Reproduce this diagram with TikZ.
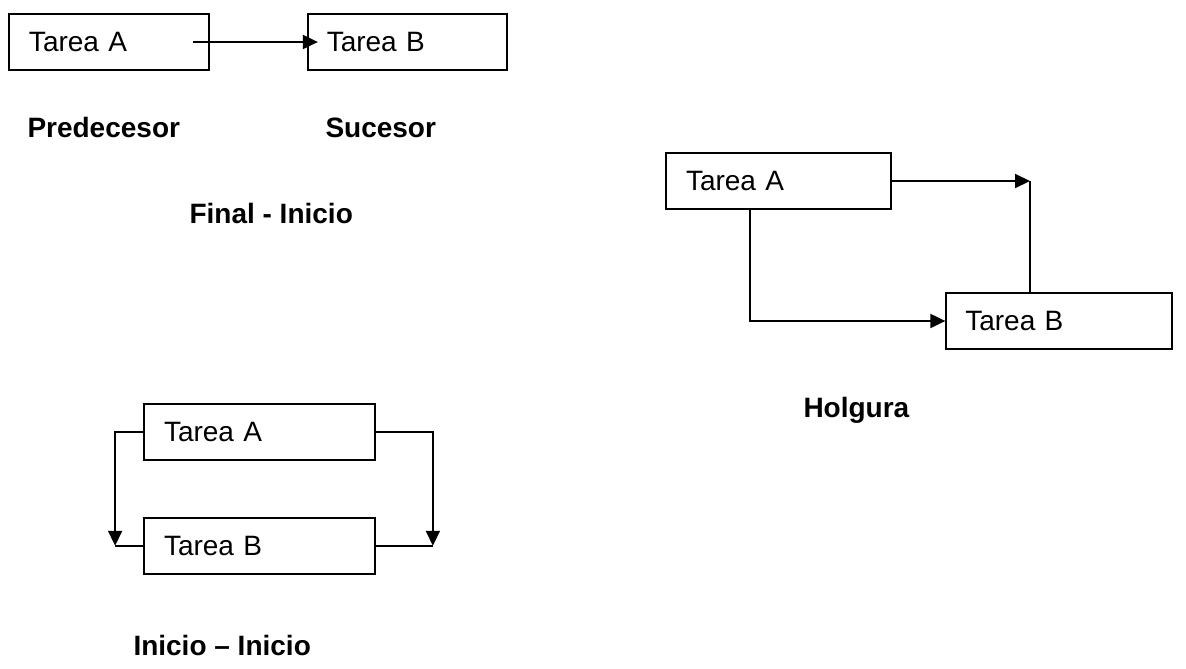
\documentclass[tikz,border=0pt]{standalone}
\usepackage{fontspec}
\setmainfont{Liberation Sans}
\usetikzlibrary{arrows.meta, positioning, calc}
\tikzstyle{tarea} = [rectangle, draw=black, line width=0.7pt, minimum height=22.4pt, inner xsep=8pt, align=left, font=\fontsize{11.2}{13}\selectfont]
\tikzstyle{flecha} = [line width=0.8pt, -{Triangle[length=6pt,width=5.6pt]}]
\tikzstyle{linea} = [line width=0.8pt, -]
\tikzstyle{etiqueta} = [anchor=base west, inner sep=0pt, font=\fontsize{11.2}{13}\selectfont\bfseries]

\begin{document}
\begin{tikzpicture}[x=0.4pt, y=-0.4pt]
    \useasboundingbox (0,0) rectangle (1186,668);

    % Final - Inicio
    \node [tarea, text width=64pt] (fA) at (109,42) {Tarea A};
    \node [tarea, text width=64.4pt, inner xsep=7.6pt, right=38.8pt of fA] (fB) {Tarea B};
    \node [etiqueta] (pred) at (27,137) {Predecesor};
    \node [etiqueta] (suc) at (325,137) {Sucesor};
    \node [etiqueta] (fi) at (189,223) {Final - Inicio};

    \draw [flecha] ($(fA.east)+(-17,0)$) -- ($(fB.west)+(11,0)$);

    % Holgura
    \node [tarea, text width=74pt] (hA) at (778.5,181) {Tarea A};
    \node [tarea, text width=75pt, inner xsep=7.6pt] (hB) at (1059,321) {Tarea B};
    \node [etiqueta] (hol) at (803,417) {Holgura};
    \coordinate (hC) at (1030,181);

    \draw [flecha] (hA.east) -- (hC);
    \draw [linea] (hC |- hB.north) -- (hC);
    \draw [flecha] ([xshift=-11.4pt]hA.south) |- (hB.west);

    % Inicio - Inicio
    \node [tarea, text width=76.4pt] (iA) at (259.5,432) {Tarea A};
    \node [tarea, text width=76.4pt, below=22.4pt of iA] (iB) {Tarea B};
    \node [etiqueta] (ii) at (133,655) {Inicio – Inicio};
    \coordinate [left=11.2pt of iB.west] (iL);
    \coordinate [right=22.8pt of iB.east] (iR);

    \draw [flecha] (iA.west) -| (iL);
    \draw [linea] (iL) -- (iB.west);
    \draw [flecha] (iA.east) -| (iR);
    \draw [linea] (iR) -- (iB.east);
\end{tikzpicture}
\end{document}
